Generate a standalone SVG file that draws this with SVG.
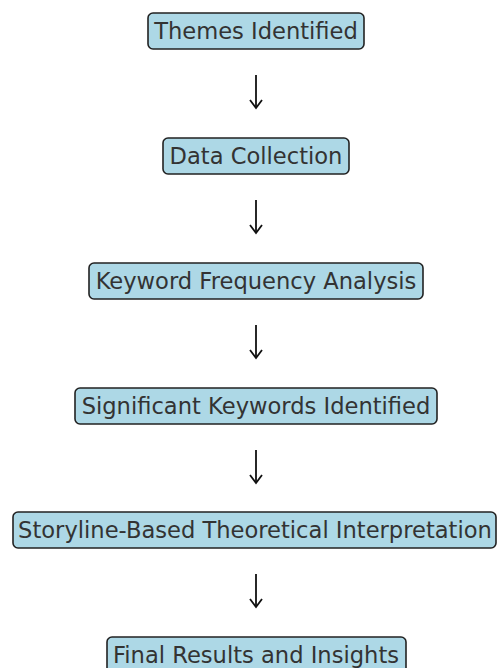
<svg xmlns="http://www.w3.org/2000/svg" width="497" height="668" viewBox="0 0 497 668">
<style>
.box{fill:#add8e6;stroke:#222;stroke-width:1.6}
.lbl{font-family:"DejaVu Sans",sans-serif;font-size:22.6px;fill:#333;text-anchor:middle}
.arr{stroke:#111;stroke-width:1.8;fill:none}
</style>
<rect width="497" height="668" fill="#fff"/>
<g id="connectors">
<path class="arr" d="M256,75 V108"/>
<path class="arr" d="M256,200 V233"/>
<path class="arr" d="M256,325 V358"/>
<path class="arr" d="M256,450 V483"/>
<path class="arr" d="M256,574 V607"/>
<path class="arr" d="M250,100 L256,108 L262,100"/>
<path class="arr" d="M250,225 L256,233 L262,225"/>
<path class="arr" d="M250,350 L256,358 L262,350"/>
<path class="arr" d="M250,475 L256,483 L262,475"/>
<path class="arr" d="M250,599 L256,607 L262,599"/>
</g>
<g id="n1"><rect class="box" x="148" y="13" width="216" height="36" rx="5"/><text class="lbl" x="256" y="38.5">Themes Identified</text></g>
<g id="n2"><rect class="box" x="163" y="138" width="186" height="36" rx="5"/><text class="lbl" x="256" y="163.5">Data Collection</text></g>
<g id="n3"><rect class="box" x="89" y="263" width="334" height="36" rx="5"/><text class="lbl" x="256" y="288.5">Keyword Frequency Analysis</text></g>
<g id="n4"><rect class="box" x="75" y="388" width="362" height="36" rx="5"/><text class="lbl" x="256" y="413.5">Significant Keywords Identified</text></g>
<g id="n5"><rect class="box" x="13" y="512" width="483" height="36" rx="5"/><text class="lbl" x="255" y="537.5">Storyline-Based Theoretical Interpretation</text></g>
<g id="n6"><rect class="box" x="107" y="637" width="299" height="36" rx="5"/><text class="lbl" x="256" y="662.5">Final Results and Insights</text></g>
</svg>
